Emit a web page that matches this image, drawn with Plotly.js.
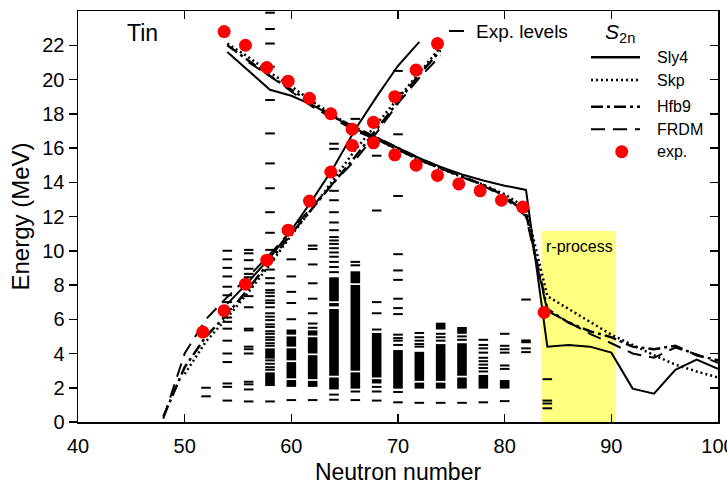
<!DOCTYPE html>
<html><head><meta charset="utf-8">
<script src="https://cdn.plot.ly/plotly-3.0.1.min.js"></script>
<style>html,body{margin:0;padding:0;background:#fff}#chart{width:727px;height:485px}</style>
</head><body><div id="chart"></div>
<script>
// ---- model curves: S2n branch (falling) ----
const s2nN    = [54,56,58,60,62,64,66,68,70,72,74,76,78,80,82,84,86,88,90,92,94,96,98,100];
const sly4S2n = [21.6,20.5,19.4,19.05,18.5,17.8,17.1,16.6,16.0,15.4,14.9,14.45,14.1,13.8,13.55,4.4,4.5,4.4,4.05,1.95,1.65,3.05,3.65,3.1];
const skpS2n  = [22.1,21.3,20.4,19.6,18.7,17.9,17.1,16.5,15.9,15.3,14.8,14.3,13.85,13.3,12.5,7.35,6.6,5.85,5.1,4.5,3.9,3.35,2.95,2.6];
const hfb9S2n = [22.0,21.1,20.2,19.4,18.6,17.8,17.2,16.6,16.0,15.4,14.85,14.35,13.85,13.2,12.2,6.6,5.8,5.3,4.95,4.4,4.25,4.45,3.9,3.6];
const frdmS2n = [null,21.0,20.2,19.3,18.4,17.7,17.0,16.5,15.9,15.3,14.8,14.3,13.8,13.1,12.0,6.5,5.8,5.15,4.6,4.0,3.75,4.35,3.95,3.45];
// ---- model curves: rising branch ----
const riseN    = [48,50,52,54,56,58,60,62,64,66,68,70,72,74];
const sly4Rise = [null,null,null,6.9,8.2,9.6,11.2,13.0,14.9,17.1,19.0,20.8,22.2,null];
const skpRise  = [null,2.8,4.7,6.1,7.6,9.2,10.9,12.5,14.2,15.9,17.4,18.9,20.4,21.9];
const hfb9Rise = [0.3,3.2,5.0,6.3,7.8,9.4,11.0,12.5,14.0,15.5,17.1,18.7,20.3,21.7];
const frdmRise = [0.2,4.0,6.0,7.3,8.5,9.8,11.2,12.6,14.0,15.3,16.9,18.6,20.1,21.4];
// ---- experimental points ----
const expS2nN  = [53.7,55.7,57.7,59.7,61.7,63.7,65.7,67.7,69.7,71.7,73.7,75.7,77.7,79.7,81.7,83.7];
const expS2n   = [22.8,22.0,20.7,19.9,18.9,18.0,17.1,16.3,15.6,15.0,14.4,13.9,13.5,12.95,12.55,6.4];
const expRiseN = [51.7,53.7,55.7,57.7,59.7,61.7,63.7,65.7,67.7,69.7,71.7,73.7];
const expRise  = [5.25,6.5,8.05,9.45,11.2,12.9,14.6,16.15,17.5,19.0,20.55,22.1];
// ---- experimental levels (MeV) per neutron number ----
const lev52=[2.0,1.5];
const lev54=[10.0,9.5,9.0,8.5,7.9,7.4,7.0,6.6,6.1,5.85,5.45,4.75,4.0,3.5,2.25,2.05,1.25];
const lev56=[10.05,9.85,9.45,8.95,8.65,8.45,7.9,7.35,6.7,5.45,5.35,4.4,4.25,4.0,2.35,2.2,1.9,1.2];
const lev58=[23.9,22.95,22.1,20.75,18.8,16.85,15.1,13.65,12.25,11.05,10.05,9.45,8.9,8.4,8.1,7.7,7.55,7.35,7.1,6.95,6.7,6.35,6.15,5.95,5.7,5.55,5.3,5.15,4.95,4.8,4.6,4.45,3.6,3.4,3.2,3.05,1.2];
const lev60=[9.5,8.5,7.6,6.95,6.0,1.28];
const lev62=[10.3,10.1,9.2,8.1,7.2,6.35,5.75,5.5,1.28];
const lev64=[16.25,15.95,13.5,12.95,12.25,11.65,11.2,10.8,10.6,10.4,10.15,9.9,9.65,9.35,9.05,8.75,1.6,1.3];
const lev66=[17.7,9.35,9.15,1.78,1.28];
const lev68=[15.55,12.35,7.0,6.35,5.4,2.05,1.78,1.25];
const lev70=[20.5,19.2,16.8,13.2,9.8,8.85,8.3,7.2,6.65,6.3,5.1,4.9,4.75,4.5,1.75,1.15];
const lev72=[5.2,4.95,4.75,4.55,4.4,1.12];
const lev74=[5.15,4.95,4.75,1.12];
const lev76=[5.0,4.8,1.12];
const lev78=[4.8,4.5,4.3,4.05,3.75,3.55,3.35,3.15,2.95,1.15];
const lev80=[5.15,4.45,4.25,4.05,3.3,3.1,1.22];
const lev82=[7.15,4.3,4.08];
const lev84=[2.5,1.25,1.08,0.8];
// dense level bands [low, high] (MeV)
const band58=[[3.7,4.3],[2.1,2.9]];
const band60=[[5.1,5.4],[4.4,5.0],[3.6,4.3],[2.55,3.5],[2.05,2.45]];
const band62=[[5.05,5.35],[4.0,4.95],[2.5,3.9],[2.05,2.4]];
const band64=[[7.05,8.45],[6.75,6.95],[2.7,6.6],[1.9,2.6]];
const band66=[[8.1,8.8],[3.0,8.0],[1.95,2.9]];
const band68=[[2.6,5.2],[2.25,2.5]];
const band70=[[1.95,4.2]];
const band72=[[2.4,4.1],[1.95,2.3]];
const band74=[[5.4,5.8],[2.4,4.55],[1.95,2.3]];
const band76=[[5.15,5.55],[2.7,4.6],[1.95,2.6]];
const band78=[[1.95,2.75]];
const band80=[[1.95,2.45]];
const band82=[[4.6,4.82]];
// r-process window
const rProcN = [83.45, 90.4];
const rProcTop = 11.15;

const levelSets=[[52,lev52],[54,lev54],[56,lev56],[58,lev58],[60,lev60],[62,lev62],[64,lev64],[66,lev66],[68,lev68],[70,lev70],[72,lev72],[74,lev74],[76,lev76],[78,lev78],[80,lev80],[82,lev82],[84,lev84]];
const bandSets=[[58,band58],[60,band60],[62,band62],[64,band64],[66,band66],[68,band68],[70,band70],[72,band72],[74,band74],[76,band76],[78,band78],[80,band80],[82,band82]];
const HW=0.45;
const lx=[],ly=[];
levelSets.forEach(([n,arr])=>arr.forEach(e=>{lx.push(n-HW,n+HW,null);ly.push(e,e,null);}));
const bx=[],bb=[],bh=[];
bandSets.forEach(([n,arr])=>arr.forEach(([lo,hi])=>{bx.push(n);bb.push(lo);bh.push(hi-lo);}));

const K='#000';
const dotDash='2px,3px', dashDot='12px,4px,3px,4px', longDash='14px,8px';
function ln(x,y,w,dash){return {type:'scatter',mode:'lines',x:x,y:y,line:{color:K,width:w,dash:dash},hoverinfo:'skip',showlegend:false};}
const traces=[
  {type:'bar',x:bx,y:bh,base:bb,width:2*HW,marker:{color:K,line:{width:0}},hoverinfo:'skip',showlegend:false},
  {type:'scatter',mode:'lines',x:lx,y:ly,line:{color:K,width:2},hoverinfo:'skip',showlegend:false},
  ln(s2nN,sly4S2n,2,'solid'), ln(s2nN,skpS2n,2.5,dotDash), ln(s2nN,hfb9S2n,2.5,dashDot), ln(s2nN,frdmS2n,2,longDash),
  ln(riseN,sly4Rise,2,'solid'), ln(riseN,skpRise,2.5,dotDash), ln(riseN,hfb9Rise,2.5,dashDot), ln(riseN,frdmRise,2,longDash),
  {type:'scatter',mode:'markers',x:expS2nN,y:expS2n,marker:{color:'#ff0000',size:13},hoverinfo:'skip',showlegend:false},
  {type:'scatter',mode:'markers',x:expRiseN,y:expRise,marker:{color:'#ff0000',size:13},hoverinfo:'skip',showlegend:false},
  {type:'scatter',x:[],y:[],yaxis:'y2',showlegend:false,hoverinfo:'skip'}
];

const L=78,R=718,T=11,B=422;
const px=v=>(v-L)/(R-L), py=v=>(B-v)/(B-T);
const legY=[57.3,80,106.7,129.3];
const legDash=['solid',dotDash,dashDot,longDash];
const legW=[2.5,2.5,2.5,2];
const legTxt=['Sly4','Skp','Hfb9','FRDM'];
const shapes=[
  {type:'rect',xref:'x',yref:'y',x0:rProcN[0],x1:rProcN[1],y0:0,y1:rProcTop,fillcolor:'#ffff80',line:{width:0},layer:'below'},
  {type:'line',xref:'paper',yref:'paper',x0:px(449),x1:px(464),y0:py(31),y1:py(31),line:{color:K,width:2}},
  {type:'circle',xref:'paper',yref:'paper',x0:px(615.2),x1:px(628.2),y0:py(158.2),y1:py(145.2),fillcolor:'#ff0000',line:{width:0}}
];
legY.forEach((y,i)=>shapes.push({type:'line',xref:'paper',yref:'paper',x0:px(591),x1:px(640),y0:py(y),y1:py(y),line:{color:K,width:legW[i],dash:legDash[i]}}));
const ann=[
  {xref:'paper',yref:'paper',x:px(142),y:py(33),text:'Tin',showarrow:false,xanchor:'center',yanchor:'middle',font:{size:23}},
  {xref:'paper',yref:'paper',x:px(474),y:py(31),text:'Exp. levels',showarrow:false,xanchor:'left',yanchor:'middle',font:{size:19}},
  {xref:'paper',yref:'paper',x:px(603),y:py(33),text:'<i>S</i><sub>2n</sub>',showarrow:false,xanchor:'left',yanchor:'middle',font:{size:21}},
  {xref:'x',yref:'paper',x:rProcN[0],xshift:3,y:py(246),text:'r-process',showarrow:false,xanchor:'left',yanchor:'middle',font:{size:16}},
  {xref:'paper',yref:'paper',x:px(655),y:py(151.7),text:'exp.',showarrow:false,xanchor:'left',yanchor:'middle',font:{size:16}}
];
legY.forEach((y,i)=>ann.push({xref:'paper',yref:'paper',x:px(655),y:py(y),text:legTxt[i],showarrow:false,xanchor:'left',yanchor:'middle',font:{size:16}}));

const layout={
  width:727,height:485,margin:{l:L,r:727-R,t:T,b:485-B},
  paper_bgcolor:'#fff',plot_bgcolor:'#fff',showlegend:false,barmode:'overlay',
  font:{family:'Liberation Sans, Arial, sans-serif',color:K,size:20},
  xaxis:{range:[40,100],tickvals:[40,50,60,70,80,90,100],ticks:'inside',ticklen:8,tickwidth:1.5,tickcolor:K,
    showline:true,linewidth:1.5,linecolor:K,mirror:'ticks',showgrid:false,zeroline:false,ticklabelstandoff:5,
    ticklabeloverflow:'allow',
    tickfont:{size:20},title:{text:'Neutron number',font:{size:23},standoff:11}},
  yaxis:{range:[0,24],tickvals:[0,2,4,6,8,10,12,14,16,18,20,22],ticks:'outside',ticklen:8,tickwidth:1.5,tickcolor:K,
    showline:true,linewidth:1.5,linecolor:K,mirror:true,showgrid:false,zeroline:false,
    tickfont:{size:20},title:{text:'Energy (MeV)',font:{size:24},standoff:6}},
  yaxis2:{overlaying:'y',side:'right',range:[0,24],tickvals:[2,4,6,8,10,12,14,16,18,20,22],ticks:'inside',ticklen:8,
    tickwidth:1.5,tickcolor:K,showticklabels:false,showline:false,showgrid:false,zeroline:false},
  shapes:shapes,annotations:ann
};
Plotly.newPlot('chart',traces,layout,{staticPlot:true,displayModeBar:false});
</script>
</body></html>
